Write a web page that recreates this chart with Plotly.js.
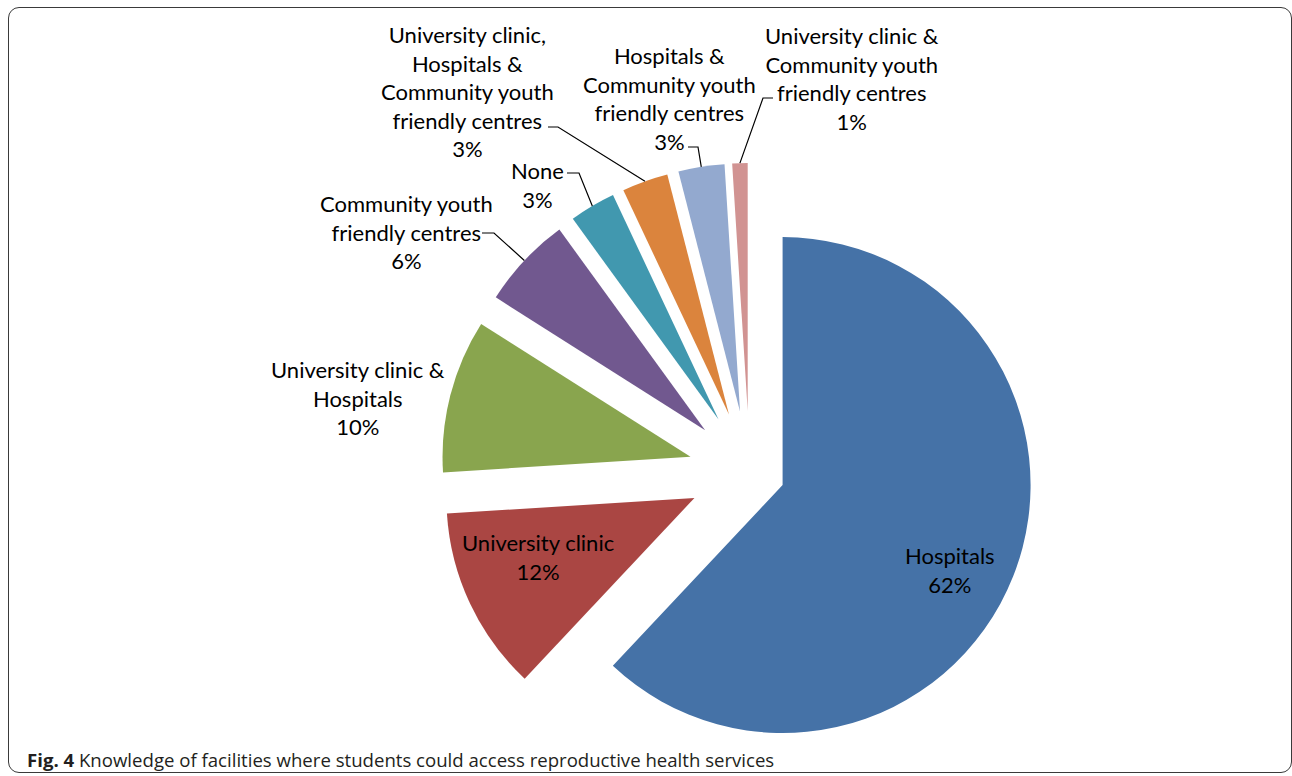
<!DOCTYPE html>
<html><head><meta charset="utf-8">
<script src="https://cdn.plot.ly/plotly-3.0.1.min.js"></script>
<style>
html,body{margin:0;padding:0;overflow:hidden;background:#fff;width:1292px;height:776px}
#chart{position:absolute;left:0;top:0;width:1292px;height:800px}
#frame{position:absolute;left:8px;top:7px;width:1284px;height:766px;border:1.5px solid #3a3a3a;border-radius:11px;pointer-events:none;box-sizing:border-box}
</style></head><body>
<div id="chart"></div><div id="frame"></div>
<script>
// ---- data ----
const categories = [
  "Hospitals",
  "University clinic",
  "University clinic & Hospitals",
  "Community youth friendly centres",
  "None",
  "University clinic, Hospitals & Community youth friendly centres",
  "Hospitals & Community youth friendly centres",
  "University clinic & Community youth friendly centres"
];
const shares = [62, 12, 10, 6, 3, 3, 3, 1];
const displayLabels = [
  "Hospitals",
  "University clinic",
  "University clinic &<br>Hospitals",
  "Community youth<br>friendly centres",
  "None",
  "University clinic,<br>Hospitals &<br>Community youth<br>friendly centres",
  "Hospitals &<br>Community youth<br>friendly centres",
  "University clinic &<br>Community youth<br>friendly centres"
];
const sliceColors = ["#4572A7","#AA4643","#89A54E","#71588F","#4198AF","#DB843D","#93A9CF","#D19392"];
const captionBold = "Fig. 4";
const captionText = "Knowledge of facilities where students could access reproductive health services";

// ---- style / placement ----
const W = 1292, H = 800;
const pulls = [0.143, 0.246, 0.246, 0.246, 0.246, 0.246, 0.246, 0.246];
// label text centres (px) and leader-line start/elbow (px) for outside labels
const labelPos = [[950,570],[538,557],[358,398],[406,232],[537,185],[467,91],[669,98],[852,78]];
const leaderPts = [null,null,null,[[482,233],[494,233]],[[567,173],[579,173]],[[548,127],[558,127]],[[688,147],[698,147]],[[773,98],[763,98]]];
const FONT = "Lato, 'Open Sans', sans-serif";
const px = x => x / W;
const py = y => 1 - y / H;

const trace = {
  type: "pie",
  labels: categories,
  values: shares,
  sort: false,
  direction: "clockwise",
  rotation: 0,
  pull: pulls,
  textinfo: "none",
  hoverinfo: "skip",
  marker: {colors: sliceColors, line: {width: 0}},
  domain: {x: [0.341, 0.8194], y: [0.02375, 0.79625]},
  showlegend: false
};

const total = shares.reduce((a,b)=>a+b,0);
const annotations = shares.map((v,i) => ({
  xref: "paper", yref: "paper",
  x: px(labelPos[i][0]), y: py(labelPos[i][1]),
  xanchor: "center", yanchor: "middle",
  showarrow: false,
  text: displayLabels[i] + "<br>" + Math.round(v / total * 100) + "%",
  font: {family: FONT, size: 22, color: "#000"}
}));
annotations.push({
  xref: "paper", yref: "paper", x: px(25), y: py(759),
  xanchor: "left", yanchor: "middle", showarrow: false,
  text: "<b>" + captionBold + "</b> " + captionText,
  font: {family: "'Open Sans', sans-serif", size: 18.6, color: "#231f20"}
});

const layout = {
  width: W, height: H,
  margin: {l: 0, r: 0, t: 0, b: 0},
  paper_bgcolor: "rgba(0,0,0,0)",
  plot_bgcolor: "rgba(0,0,0,0)",
  annotations: annotations
};

Plotly.newPlot("chart", [trace], layout, {staticPlot: true, displayModeBar: false}).then(gd => {
  const cd = gd.calcdata[0];
  const c0 = cd[0];
  const shapes = [];
  let cum = 0;
  cd.forEach((pt, k) => {
    const i = (pt.i !== undefined) ? pt.i : k;
    let mx, my;
    if (pt.pxmid) { mx = pt.pxmid[0]; my = pt.pxmid[1]; }
    else {
      const a = 2 * Math.PI * (cum + shares[i] / 2) / total;
      mx = c0.r * Math.sin(a); my = -c0.r * Math.cos(a);
    }
    cum += shares[i];
    const lp = leaderPts[i];
    if (!lp) return;
    const hx = c0.cx + mx * (1 + pulls[i]);
    const hy = c0.cy + my * (1 + pulls[i]);
    shapes.push({
      type: "path", xref: "paper", yref: "paper",
      path: `M ${px(lp[0][0])},${py(lp[0][1])} L ${px(lp[1][0])},${py(lp[1][1])} L ${px(hx)},${py(hy)}`,
      line: {color: "#000", width: 1.2}
    });
  });
  return Plotly.relayout(gd, {shapes: shapes});
});
</script>
</body></html>
